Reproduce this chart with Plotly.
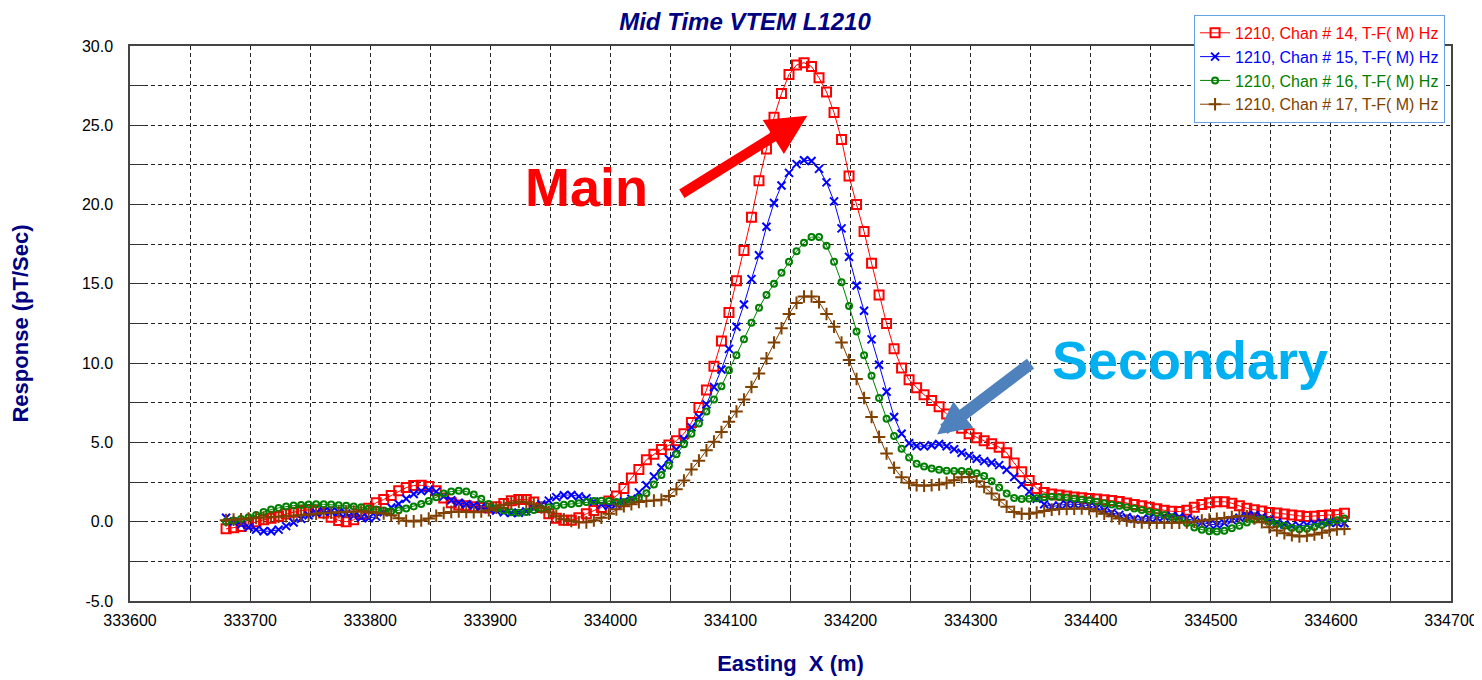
import plotly.graph_objects as go

# Sampling positions (Easting, m)
easting = [333680 + 6.25 * i for i in range(150)]

chan14 = [
    -0.45, -0.38, -0.30, -0.15, 0.00, 0.12, 0.22, 0.33, 0.48, 0.60,
    0.70, 0.75, 0.72, 0.55, 0.28, 0.08, 0.00, 0.12, 0.45, 0.85,
    1.20, 1.40, 1.65, 1.95, 2.15, 2.28, 2.30, 2.22, 1.95, 1.50,
    1.20, 1.05, 1.00, 0.95, 0.90, 0.87, 0.95, 1.15, 1.32, 1.40,
    1.40, 1.25, 0.90, 0.50, 0.22, 0.10, 0.10, 0.25, 0.50, 0.70,
    0.90, 1.30, 1.62, 2.10, 2.75, 3.30, 3.90, 4.25, 4.55, 4.83,
    5.10, 5.55, 6.25, 7.20, 8.30, 9.80, 11.40, 13.20, 15.20, 17.10,
    19.20, 21.50, 23.50, 25.50, 27.00, 28.20, 28.80, 28.95, 28.70, 28.00,
    27.10, 25.80, 24.10, 21.80, 20.00, 18.30, 16.30, 14.30, 12.50, 10.90,
    9.70, 8.95, 8.45, 8.00, 7.65, 7.25, 6.80, 6.35, 5.90, 5.55,
    5.30, 5.10, 4.92, 4.70, 4.35, 3.70, 3.15, 2.60, 2.10, 1.85,
    1.75, 1.68, 1.62, 1.56, 1.51, 1.47, 1.43, 1.38, 1.33, 1.27,
    1.18, 1.08, 1.00, 0.92, 0.82, 0.72, 0.66, 0.64, 0.72, 0.92,
    1.08, 1.20, 1.26, 1.26, 1.17, 1.00, 0.85, 0.76, 0.68, 0.58,
    0.55, 0.48, 0.42, 0.37, 0.33, 0.34, 0.39, 0.43, 0.44, 0.54,
]

chan15 = [
    0.25, 0.00, -0.18, -0.35, -0.50, -0.60, -0.60, -0.50, -0.28, -0.05,
    0.18, 0.40, 0.55, 0.64, 0.64, 0.60, 0.52, 0.38, 0.27, 0.22,
    0.32, 0.60, 0.90, 1.12, 1.45, 1.75, 1.93, 2.00, 1.90, 1.60,
    1.35, 1.20, 1.10, 1.02, 0.93, 0.82, 0.70, 0.60, 0.55, 0.56,
    0.65, 0.85, 1.10, 1.33, 1.55, 1.67, 1.69, 1.60, 1.48, 1.28,
    1.08, 1.00, 1.10, 1.28, 1.45, 1.85, 2.30, 2.85, 3.40, 3.95,
    4.55, 5.20, 5.95, 6.60, 7.40, 8.50, 9.60, 10.90, 12.30, 13.70,
    15.30, 16.80, 18.60, 20.10, 21.20, 22.00, 22.55, 22.80, 22.75, 22.25,
    21.40, 20.20, 18.50, 16.70, 14.90, 13.30, 11.50, 9.90, 8.20, 6.60,
    5.55, 4.95, 4.78, 4.75, 4.82, 4.90, 4.76, 4.57, 4.35, 4.15,
    3.97, 3.82, 3.72, 3.57, 3.28, 2.82, 2.35, 1.90, 1.45, 1.10,
    0.95, 1.03, 1.10, 1.10, 1.08, 1.00, 0.88, 0.72, 0.57, 0.43,
    0.28, 0.17, 0.15, 0.20, 0.26, 0.33, 0.37, 0.30, 0.20, 0.10,
    -0.04, -0.15, -0.20, -0.08, 0.10, 0.25, 0.38, 0.42, 0.30, 0.12,
    -0.05, -0.18, -0.26, -0.26, -0.20, -0.12, -0.06, -0.05, -0.07, -0.10,
]

chan16 = [
    0.00, 0.08, 0.17, 0.28, 0.43, 0.62, 0.77, 0.87, 0.96, 1.02,
    1.06, 1.09, 1.10, 1.10, 1.08, 1.04, 1.00, 0.96, 0.91, 0.84,
    0.77, 0.70, 0.66, 0.72, 0.84, 0.96, 1.12, 1.30, 1.55, 1.78,
    1.90, 1.96, 1.90, 1.72, 1.45, 1.12, 0.85, 0.70, 0.60, 0.57,
    0.62, 0.74, 0.84, 0.92, 1.00, 1.07, 1.12, 1.17, 1.25, 1.30,
    1.32, 1.30, 1.25, 1.25, 1.38, 1.50, 1.80, 2.35, 2.95, 3.55,
    4.25, 4.88, 5.55, 6.20, 6.95, 7.70, 8.55, 9.55, 10.50, 11.50,
    12.55, 13.50, 14.30, 15.00, 15.70, 16.40, 17.05, 17.60, 17.95, 17.95,
    17.40, 16.40, 15.10, 13.60, 12.00, 10.50, 9.20, 7.80, 6.50, 5.40,
    4.60, 4.05, 3.65, 3.48, 3.36, 3.27, 3.21, 3.20, 3.20, 3.15,
    3.05, 2.88, 2.55, 2.15, 1.78, 1.50, 1.44, 1.45, 1.48, 1.55,
    1.58, 1.56, 1.52, 1.47, 1.40, 1.35, 1.26, 1.16, 1.08, 1.00,
    0.92, 0.84, 0.74, 0.65, 0.55, 0.42, 0.28, 0.12, -0.08, -0.36,
    -0.50, -0.60, -0.62, -0.57, -0.42, -0.25, -0.05, 0.12, 0.15, 0.02,
    -0.15, -0.26, -0.40, -0.47, -0.45, -0.33, -0.20, -0.05, 0.10, 0.20,
]

chan17 = [
    0.10, 0.13, 0.16, 0.20, 0.23, 0.27, 0.30, 0.32, 0.35, 0.38,
    0.40, 0.45, 0.50, 0.55, 0.57, 0.60, 0.63, 0.64, 0.64, 0.60,
    0.57, 0.52, 0.40, 0.22, 0.06, 0.02, 0.08, 0.20, 0.38, 0.55,
    0.62, 0.64, 0.62, 0.60, 0.65, 0.72, 0.88, 1.05, 1.18, 1.27,
    1.22, 1.10, 0.90, 0.60, 0.35, 0.15, 0.05, -0.04, -0.04, 0.08,
    0.25, 0.50, 0.78, 0.98, 1.10, 1.24, 1.30, 1.33, 1.38, 1.62,
    2.05, 2.60, 3.30, 3.85, 4.50, 5.05, 5.65, 6.30, 6.95, 7.70,
    8.50, 9.35, 10.30, 11.30, 12.20, 13.10, 13.80, 14.20, 14.20, 13.85,
    13.10, 12.30, 11.30, 10.20, 9.00, 7.80, 6.60, 5.35, 4.30, 3.40,
    2.80, 2.45, 2.30, 2.27, 2.30, 2.35, 2.45, 2.62, 2.80, 2.82,
    2.55, 2.20, 1.78, 1.38, 0.95, 0.62, 0.50, 0.50, 0.58, 0.68,
    0.76, 0.80, 0.81, 0.82, 0.84, 0.80, 0.66, 0.50, 0.34, 0.20,
    0.08, 0.00, -0.05, -0.06, -0.06, -0.06, -0.06, -0.06, -0.05, 0.00,
    0.08, 0.13, 0.18, 0.23, 0.30, 0.36, 0.34, 0.20, -0.03, -0.35,
    -0.55, -0.72, -0.85, -0.93, -0.88, -0.80, -0.70, -0.55, -0.48, -0.46,
]

series_names = [
    "1210, Chan # 14, T-F( M) Hz",
    "1210, Chan # 15, T-F( M) Hz",
    "1210, Chan # 16, T-F( M) Hz",
    "1210, Chan # 17, T-F( M) Hz",
]
series_values = [chan14, chan15, chan16, chan17]

y_tickvals = [-5, 0, 5, 10, 15, 20, 25, 30]
y_ticktext = ["-5.0", "0.0", "5.0", "10.0", "15.0", "20.0", "25.0", "30.0"]

colors = ["#FF0000", "#0000FF", "#008000", "#804000"]
symbols = ["square-open", "x-thin", "circle-open", "cross-thin"]
sizes = [9, 8, 6, 9]

FONT = "Liberation Sans, Arial, sans-serif"
NAVY = "#000080"

# page body has an 8px default margin: figure is sized/offset to compensate
W, H = 1474, 672

fig = go.Figure()
for name, vals, col, sym, sz in zip(series_names, series_values, colors, symbols, sizes):
    fig.add_trace(go.Scatter(
        x=easting, y=vals, mode="lines+markers",
        name=f"<span style='color:{col}'>{name}</span>",
        line=dict(color=col, width=1),
        marker=dict(symbol=sym, size=sz, color=col, line=dict(color=col, width=2)),
    ))

GRIDC = "#222222"
GDASH = "4px,3px"

fig.update_xaxes(
    range=[333600, 334700], dtick=100, tick0=333600,
    showgrid=True, gridcolor=GRIDC, griddash=GDASH, gridwidth=1,
    ticks="inside", ticklen=16, tickcolor="#333333", tickwidth=1,
    minor=dict(dtick=50, tick0=333600, showgrid=True, gridcolor=GRIDC, griddash=GDASH,
               ticks="inside", ticklen=16, tickcolor="#333333"),
    showline=True, linecolor="#444444", linewidth=1.5, mirror=True,
    zeroline=False, tickformat="d",
    tickfont=dict(family=FONT, size=16, color="black"),
    ticklabelstandoff=4,
    title=dict(text="Easting\u00a0 X (m)", font=dict(family=FONT, size=22, color=NAVY, weight="bold"), standoff=28),
)
fig.update_yaxes(
    range=[-5, 30], tickmode="array", tickvals=y_tickvals, ticktext=y_ticktext,
    showgrid=True, gridcolor=GRIDC, griddash=GDASH, gridwidth=1,
    ticks="inside", ticklen=15, tickcolor="#333333", tickwidth=1,
    minor=dict(dtick=2.5, tick0=0, showgrid=True, gridcolor=GRIDC, griddash=GDASH,
               ticks="inside", ticklen=15, tickcolor="#333333"),
    showline=True, linecolor="#444444", linewidth=1.5, mirror=True,
    zeroline=False,
    tickfont=dict(family=FONT, size=16, color="black"),
    ticklabelstandoff=12,
    title=dict(text="Response (pT/Sec)", font=dict(family=FONT, size=22, color=NAVY, weight="bold"), standoff=48),
)

fig.update_layout(
    width=W, height=H,
    margin=dict(l=122, r=31, t=38, b=79, autoexpand=False),
    plot_bgcolor="white", paper_bgcolor="white",
    font=dict(family=FONT, size=14),
    title=dict(text="<b><i>Mid Time VTEM L1210</i></b>", x=737 / W, xanchor="center",
               y=1 - 14 / H, yanchor="middle", font=dict(family=FONT, size=24, color=NAVY)),
    legend=dict(x=0.8055, y=1.056, xanchor="left", yanchor="top",
                bgcolor="white", bordercolor="#66A3E0", borderwidth=1,
                font=dict(family=FONT, size=16), tracegroupgap=0,
                itemwidth=30),
    showlegend=True,
)

# Text labels
fig.add_annotation(x=333980, y=21.1, xref="x", yref="y", text="<b>Main</b>", showarrow=False,
                   font=dict(family=FONT, size=54, color="#FF0000"))
fig.add_annotation(x=334483, y=10.2, xref="x", yref="y", text="<b>Secondary</b>", showarrow=False,
                   font=dict(family=FONT, size=54, color="#00B0F0"))
# Arrows
fig.add_annotation(x=334164, y=25.6, xref="x", yref="y", text="", showarrow=True,
                   ax=-127, ay=79, arrowhead=2, arrowsize=0.8, arrowwidth=10,
                   arrowcolor="#FF0000", standoff=0)
fig.add_annotation(x=334272, y=5.5, xref="x", yref="y", text="", showarrow=True,
                   ax=95, ay=-72, arrowhead=2, arrowsize=0.55, arrowwidth=12,
                   arrowcolor="#4F81BD", standoff=0)

fig.write_html("out.html")
